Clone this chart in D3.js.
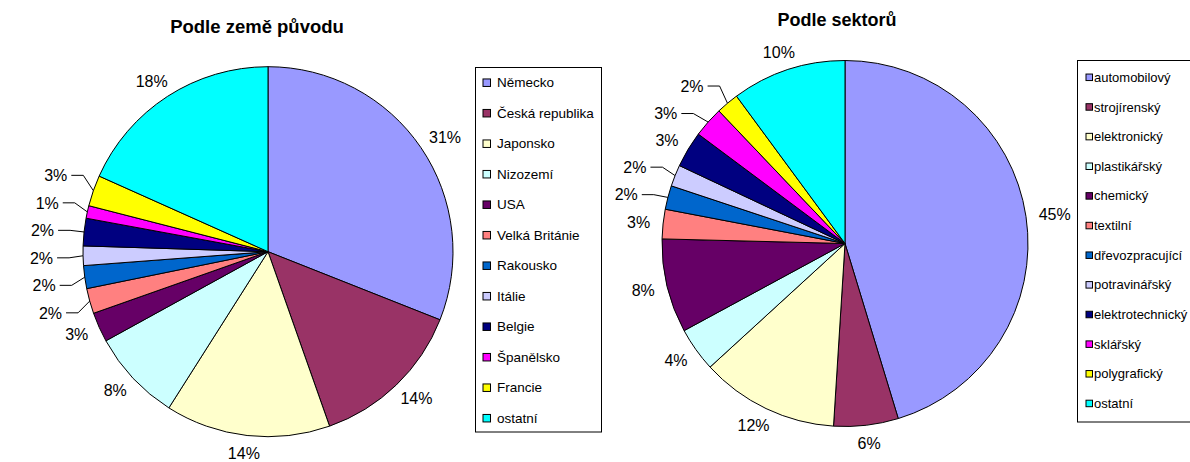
<!DOCTYPE html>
<html>
<head>
<meta charset="utf-8">
<script src="https://cdn.jsdelivr.net/npm/d3@7"></script>
<style>
  body { margin: 0; background: #fff; }
  svg { display: block; }
  text { font-family: "Liberation Sans", Arial, sans-serif; fill: #000; }
</style>
</head>
<body>
<svg id="chart" width="1190" height="462"></svg>
<script>
// ---- data: by country of origin ----
const countryTitle = "Podle země původu";
const countries = ["Německo", "Česká republika", "Japonsko", "Nizozemí", "USA", "Velká Británie",
                   "Rakousko", "Itálie", "Belgie", "Španělsko", "Francie", "ostatní"];
const countryValues = [31.0, 13.6, 14.4, 8.0, 2.6, 2.2, 2.0, 1.7, 2.4, 1.1, 2.7, 18.3];

// ---- data: by sector ----
const sectorTitle = "Podle sektorů";
const sectors = ["automobilový", "strojírenský", "elektronický", "plastikářský", "chemický", "textilní",
                 "dřevozpracující", "potravinářský", "elektrotechnický", "sklářský", "polygrafický", "ostatní"];
const sectorValues = [45.3, 5.7, 12.2, 3.9, 8.3, 2.6, 2.1, 1.9, 3.2, 2.7, 2.0, 10.1];

// ---- palette (shared order) ----
const palette = ["#9999FF", "#993366", "#FFFFCC", "#CCFFFF", "#660066", "#FF8080",
                 "#0066CC", "#CCCCFF", "#000080", "#FF00FF", "#FFFF00", "#00FFFF"];

const svg = d3.select("#chart");

function drawPie(opt) {
  const total = d3.sum(opt.values);
  const arcs = d3.pie().sort(null).value(d => d)(opt.values);
  const arc = d3.arc().innerRadius(0).outerRadius(opt.r);

  // title
  svg.append("text")
    .attr("x", opt.titleX).attr("y", opt.titleY)
    .attr("text-anchor", "middle")
    .attr("font-weight", "bold")
    .attr("font-size", opt.titleSize)
    .text(opt.title);

  const g = svg.append("g").attr("transform", `translate(${opt.cx},${opt.cy})`);
  g.selectAll("path.slice").data(arcs).join("path")
    .attr("class", "slice")
    .attr("d", arc)
    .attr("fill", (d, i) => palette[i])
    .attr("stroke", "#000")
    .attr("stroke-width", 1)
    .attr("stroke-linejoin", "round");

  // labels
  const fs = 16, gap = 13, hh = 5, S = 27.5, leadR = opt.r + 26, hor = 12;
  const labs = arcs.map((d, i) => {
    const m = (d.startAngle + d.endAngle) / 2;
    return { i, dx: Math.sin(m), dy: -Math.cos(m),
             text: Math.round(opt.values[i] / total * 100) + "%" };
  });
  // measure text widths
  const tmp = svg.append("text").attr("font-size", fs);
  labs.forEach(l => { tmp.text(l.text); l.w = tmp.node().getComputedTextLength(); });
  tmp.remove();
  labs.forEach(l => {
    l.x = l.dx * (opt.r + gap) + l.dx * l.w / 2;
    l.y = l.dy * (opt.r + gap) + l.dy * hh;
    l.leader = false;
  });
  // resolve collisions per side
  [labs.filter(l => l.dx < 0), labs.filter(l => l.dx >= 0)].forEach(arr => {
    if (!arr.length) return;
    arr.sort((a, b) => a.y - b.y);
    const groups = [];
    let cur = [arr[0]];
    for (let k = 1; k < arr.length; k++) {
      if (arr[k].y - arr[k - 1].y < S) cur.push(arr[k]);
      else { groups.push(cur); cur = [arr[k]]; }
    }
    groups.push(cur);
    groups.forEach(gr => {
      if (gr.length > 1) {
        const mean = d3.mean(gr, d => d.y);
        gr.forEach((d, j) => { d.y = mean + (j - (gr.length - 1) / 2) * S; d.leader = true; });
      }
    });
  });

  labs.forEach(l => {
    if (l.leader) {
      const s = l.dx < 0 ? -1 : 1;
      const xs = s * Math.sqrt(Math.max(0, leadR * leadR - l.y * l.y));
      g.append("path")
        .attr("d", `M${xs},${l.y}L${xs - s * hor},${l.y}L${l.dx * opt.r},${l.dy * opt.r}`)
        .attr("fill", "none").attr("stroke", "#000").attr("stroke-width", 1);
      g.append("text")
        .attr("x", xs + s * 4).attr("y", l.y).attr("dy", "0.36em")
        .attr("text-anchor", s < 0 ? "end" : "start")
        .attr("font-size", fs).text(l.text);
    } else {
      g.append("text")
        .attr("x", l.x).attr("y", l.y).attr("dy", "0.36em")
        .attr("text-anchor", "middle")
        .attr("font-size", fs).text(l.text);
    }
  });

  // legend
  const L = opt.legend;
  svg.append("rect")
    .attr("x", L.x).attr("y", L.y).attr("width", L.w).attr("height", L.h)
    .attr("fill", "#fff").attr("stroke", "#000").attr("stroke-width", 1);
  const items = svg.append("g").selectAll("g").data(opt.names).join("g")
    .attr("transform", (d, i) => `translate(0,${L.first + i * L.step})`);
  items.append("rect")
    .attr("x", L.sx).attr("y", -L.ss / 2).attr("width", L.ss).attr("height", L.ss)
    .attr("fill", (d, i) => palette[i]).attr("stroke", "#000").attr("stroke-width", 1);
  items.append("text")
    .attr("x", L.tx).attr("y", 0).attr("dy", "0.35em")
    .attr("font-size", L.fs).text(d => d);
}

drawPie({
  title: countryTitle, titleX: 257, titleY: 33, titleSize: 18.5,
  names: countries, values: countryValues,
  cx: 268, cy: 251.7, r: 185,
  legend: { x: 475.5, y: 67.5, w: 126, h: 364.5, first: 82.7, step: 30.5,
            sx: 483, ss: 7.5, tx: 497, fs: 13.5 }
});

drawPie({
  title: sectorTitle, titleX: 837, titleY: 26, titleSize: 18,
  names: sectors, values: sectorValues,
  cx: 845, cy: 243.5, r: 183,
  legend: { x: 1077.5, y: 60.5, w: 140, h: 361.5, first: 77.3, step: 29.65,
            sx: 1086, ss: 6.5, tx: 1094, fs: 13 }
});
</script>
</body>
</html>
